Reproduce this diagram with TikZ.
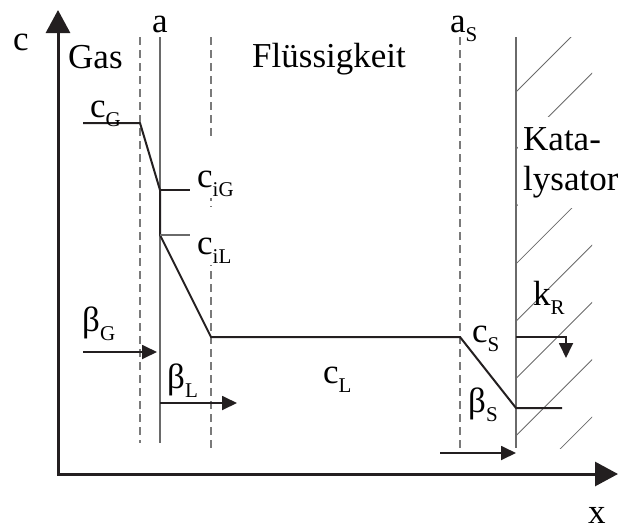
\documentclass[tikz,border=0pt]{standalone}
\usepackage{fontspec}
\setmainfont{Liberation Serif}
\usetikzlibrary{arrows.meta}
\definecolor{cAxis}{HTML}{231F20}
\definecolor{cFilm}{HTML}{7A7A7A}
\definecolor{cWall}{HTML}{6A6A6A}
\newcommand{\tief}[1]{\raisebox{-9pt}{\fontsize{21}{21}\selectfont #1}}
\tikzset{
  achse/.style={{Triangle[length=23pt, width=24pt]}-{Triangle[length=23pt, width=24pt]}, line width=3pt, cAxis},
  film/.style={dash pattern=on 8pt off 5pt, line width=1.2pt, cFilm},
  phase/.style={line width=1.2pt, cWall},
  curve/.style={line width=2pt, cAxis},
  flux/.style={-{Triangle[length=15pt, width=14pt]}, line width=1.8pt, cAxis},
  hatchline/.style={line width=0.8pt, cWall},
  lbl/.style={anchor=base west, inner sep=0pt},
  lblw/.style={lbl, fill=white, inner sep=2pt, text height=45pt, text depth=9pt},
}

\begin{document}
\begin{tikzpicture}[x=1pt, y=-1pt, font=\fontsize{35}{40}\selectfont]
  \useasboundingbox (0,0) rectangle (618,530);
  % catalyst hatching
  \begin{scope}
    \clip (516,37) rectangle (592,448);
    \foreach \c in {92,149.3,...,500}
      \draw[hatchline] (516,\c) -- ++(90,-90);
  \end{scope}
  \node[lbl, fill=white, inner xsep=5pt, inner ysep=10pt, anchor=north west, align=left] (kat) at (518,117) {Kata-\\lysator};
  % film and phase boundaries
  \draw[film] (140,37) -- (140,443);
  \draw[phase] (160,37) -- (160,443);
  \draw[film] (211,37) -- (211,448);
  \draw[film] (460,37) -- (460,448);
  \draw[phase] (516,37) -- (516,448);
  % axes
  \coordinate (o) at (58,474);
  \draw[achse] (58,10) -- (o) -- (618,474);
  % concentration profile
  \coordinate (pG) at (140,123);
  \coordinate (piG) at (160,190);
  \coordinate (piL) at (160,235);
  \coordinate (pL) at (211,337);
  \coordinate (pS0) at (460,337);
  \coordinate (pS) at (516,408);
  \draw[curve, line join=round] (83,123) -- (pG) -- (piG) -- (piL) -- (pL) -- (pS0) -- (pS) -- (562,408);
  \draw[curve, line width=1.5pt] (piG) -- ++(30,0);
  \draw[phase] (piL) -- ++(30,0);
  % fluxes
  \draw[flux] (83,352) -- (157,352);
  \draw[flux] (160,403) -- (237,403);
  \draw[flux] (440,453) -- (516,453);
  \draw[flux] (516,337) -| (566,358);
  % labels
  \node[lbl] (c) at (13,50) {c};
  \node[lbl] (x) at (588,523) {x};
  \node[lbl] (a) at (152,32) {a};
  \node[lbl] (aS) at (450,32) {a\tief{S}};
  \node[lbl] (gas) at (68,68) {Gas};
  \node[lbl] (fl) at (252,67) {Flüssigkeit};
  \node[lbl] (cG) at (90,117) {c\tief{G}};
  \node[lblw] (ciG) at (195,187) {c\tief{iG}};
  \node[lblw] (ciL) at (195,254) {c\tief{iL}};
  \node[lbl] (bG) at (82,331) {β\tief{G}};
  \node[lbl] (bL) at (167,388) {β\tief{L}};
  \node[lbl] (cL) at (323,383) {c\tief{L}};
  \node[lbl] (cS) at (472,342) {c\tief{S}};
  \node[lbl] (bS) at (468,412) {β\tief{S}};
  \node[lbl] (kR) at (533,305) {k\tief{R}};
\end{tikzpicture}
\end{document}
